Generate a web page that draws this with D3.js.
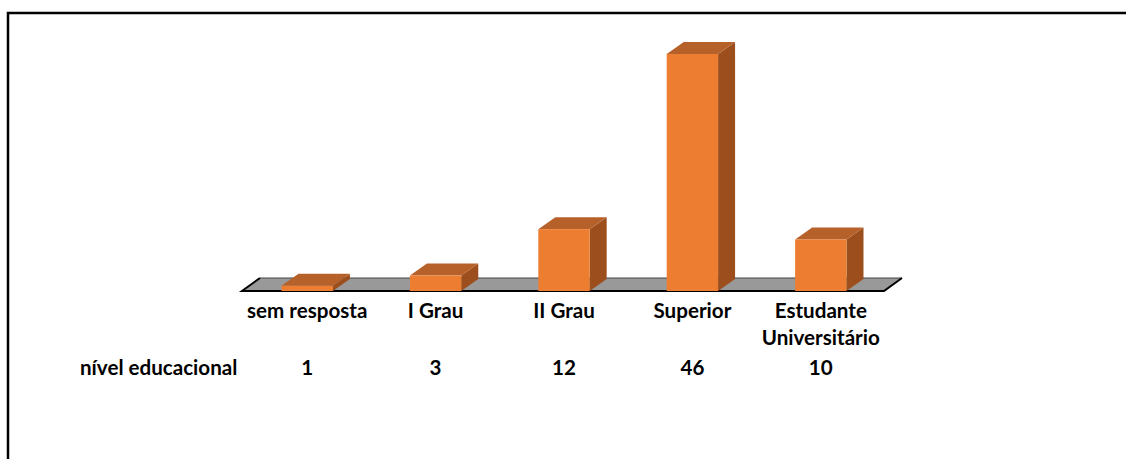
<!DOCTYPE html>
<html><head><meta charset="utf-8">
<script src="https://cdn.jsdelivr.net/npm/d3@7"></script>
<style>body{margin:0;background:#fff}svg{display:block}</style>
</head><body>
<svg id="c" width="1126" height="459"></svg>
<script>
const categories = ["sem resposta","I Grau","II Grau","Superior","Estudante Universitário"];
const categoryLines = [["sem resposta"],["I Grau"],["II Grau"],["Superior"],["Estudante","Universitário"]];
const values = [1,3,12,46,10];
const rowLabel = "nível educacional";

const svg = d3.select("#c");
const font = "Lato, 'Open Sans', sans-serif";
const fs = 20.6;
const dx = 17, dy = 12;
const floorY = 291;

// outer border (top & left)
svg.append("path").attr("d","M8,459 L8,13 L1126,13").attr("fill","none").attr("stroke","#000").attr("stroke-width",2.5);

const x = d3.scaleBand().domain(categories).range([243,885]).paddingInner(0.6).paddingOuter(0.3);
const y = d3.scaleLinear().domain([0,46]).range([floorY,54]);

// floor
svg.append("path")
  .attr("d",`M242,${floorY} L${242+dx+1},${floorY-13} L${884+dx+1},${floorY-13} L884,${floorY} Z`)
  .attr("fill","#999999").attr("stroke","none");
svg.append("path")
  .attr("d",`M${242+dx+1},${floorY-13} L${884+dx+1},${floorY-13}`)
  .attr("stroke","#444").attr("stroke-width",1);
svg.append("path")
  .attr("d",`M${242+dx+1},${floorY-13} L242,${floorY} L884,${floorY} L${884+dx+1},${floorY-13}`)
  .attr("fill","none").attr("stroke","#000").attr("stroke-width",2);

// bars
const g = svg.append("g");
categories.forEach((c,i)=>{
  const x0 = x(c), w = x.bandwidth(), yt = y(values[i]), yb = y(0);
  g.append("path").attr("d",`M${x0+w},${yb} L${x0+w},${yt} L${x0+w+dx},${yt-dy} L${x0+w+dx},${yb-dy} Z`).attr("fill","#9C4F1D");
  g.append("path").attr("d",`M${x0},${yt} L${x0+dx},${yt-dy} L${x0+w+dx},${yt-dy} L${x0+w},${yt} Z`).attr("fill","#B7612A");
  g.append("rect").attr("x",x0).attr("y",yt).attr("width",w).attr("height",yb-yt).attr("fill","#ED7D31");
});

// category labels
categories.forEach((c,i)=>{
  const cx = x(c)+x.bandwidth()/2;
  const t = svg.append("text").attr("x",cx).attr("y",318)
    .attr("text-anchor","middle").attr("font-family",font).attr("font-weight","bold").attr("font-size",fs).attr("fill","#000");
  categoryLines[i].forEach((l,j)=>t.append("tspan").attr("x",cx).attr("dy",j?26.5:0).text(l));
});

// data table row
svg.append("text").attr("x",80).attr("y",375).attr("font-family",font).attr("font-weight","bold").attr("font-size",fs).text(rowLabel);
categories.forEach((c,i)=>{
  svg.append("text").attr("x",x(c)+x.bandwidth()/2).attr("y",375).attr("text-anchor","middle")
    .attr("font-family",font).attr("font-weight","bold").attr("font-size",fs).text(values[i]);
});
</script>
</body></html>
